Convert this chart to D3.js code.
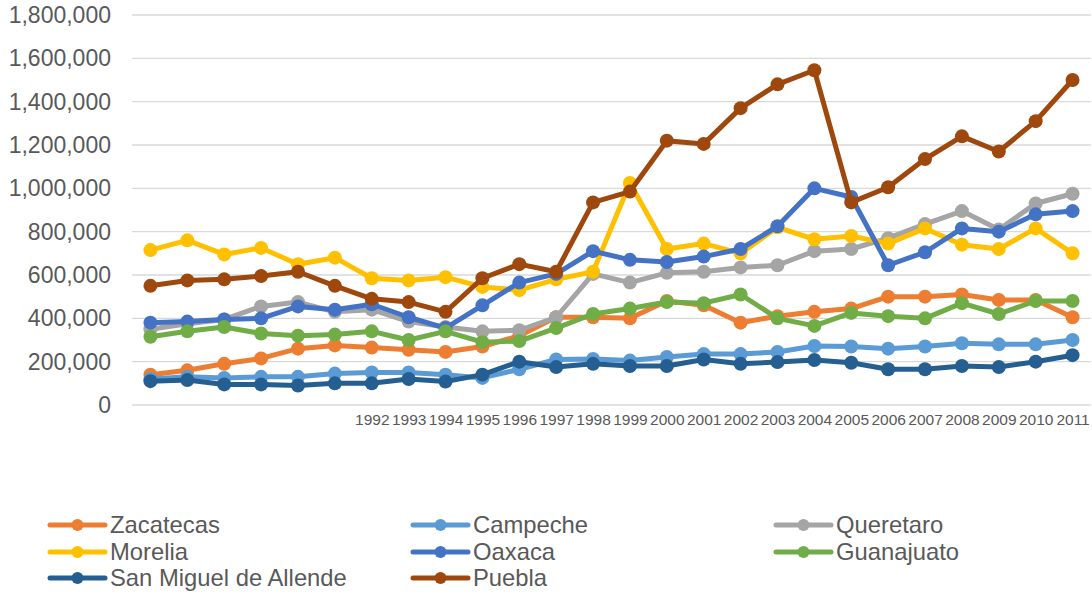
<!DOCTYPE html>
<html>
<head>
<meta charset="utf-8">
<script src="https://cdn.jsdelivr.net/npm/d3@7"></script>
<style>
  body { margin: 0; background: #fff; }
  svg text { font-family: "Liberation Sans", Arial, sans-serif; fill: #595959; }
</style>
</head>
<body>
<div class="canvas"></div>
<script>
// years 1986-1991 have no label on the axis
const years = d3.range(1986, 2012);
const tickLabels = years.map(y => y < 1992 ? "" : String(y));
const yTicks = d3.range(0, 1800001, 200000);

const names = ["Zacatecas", "Campeche", "Queretaro", "Morelia", "Oaxaca", "Guanajuato", "San Miguel de Allende", "Puebla"];
const colors = ["#ED7D31", "#5B9BD5", "#A5A5A5", "#FFC000", "#4472C4", "#70AD47", "#255E91", "#9E480E"];

const zacatecas = [140000, 160000, 190000, 215000, 260000, 275000, 265000, 255000, 245000, 270000, 320000, 405000, 405000, 400000, 480000, 460000, 380000, 410000, 430000, 445000, 500000, 500000, 510000, 485000, 485000, 405000];
const campeche = [120000, 130000, 125000, 130000, 130000, 145000, 150000, 150000, 140000, 125000, 165000, 210000, 212000, 205000, 222000, 235000, 235000, 245000, 272000, 270000, 260000, 270000, 285000, 280000, 280000, 300000];
const queretaro = [350000, 375000, 395000, 455000, 475000, 430000, 440000, 385000, 360000, 340000, 345000, 405000, 605000, 565000, 610000, 615000, 635000, 645000, 710000, 720000, 770000, 835000, 895000, 810000, 930000, 975000];
const morelia = [715000, 760000, 695000, 725000, 650000, 680000, 585000, 575000, 590000, 545000, 530000, 580000, 615000, 1025000, 720000, 745000, 700000, 820000, 765000, 780000, 745000, 815000, 740000, 720000, 815000, 700000];
const oaxaca = [380000, 385000, 395000, 400000, 455000, 440000, 465000, 405000, 355000, 460000, 565000, 605000, 710000, 670000, 660000, 685000, 720000, 825000, 1000000, 960000, 645000, 705000, 815000, 800000, 880000, 895000];
const guanajuato = [315000, 340000, 360000, 330000, 320000, 325000, 340000, 300000, 340000, 290000, 295000, 355000, 420000, 445000, 475000, 470000, 510000, 400000, 365000, 425000, 410000, 400000, 470000, 420000, 480000, 480000];
const sanMiguel = [110000, 115000, 95000, 95000, 90000, 100000, 100000, 120000, 108000, 140000, 200000, 175000, 190000, 180000, 180000, 210000, 190000, 198000, 208000, 195000, 165000, 165000, 180000, 175000, 200000, 230000];
const puebla = [550000, 575000, 580000, 595000, 615000, 550000, 490000, 475000, 430000, 585000, 650000, 615000, 935000, 985000, 1220000, 1205000, 1370000, 1480000, 1545000, 935000, 1005000, 1135000, 1240000, 1170000, 1310000, 1500000];

const seriesValues = [zacatecas, campeche, queretaro, morelia, oaxaca, guanajuato, sanMiguel, puebla];

const dim = { width: 1092, height: 592 };
const plot = { left: 132, right: 1091, top: 15, bottom: 405 };

const svg = d3.select(".canvas").append("svg")
  .attr("width", dim.width).attr("height", dim.height);

const x = d3.scalePoint().domain(years).range([plot.left, plot.right]).padding(0.5);
const y = d3.scaleLinear().domain([0, 1800000]).range([plot.bottom, plot.top]);

// gridlines
svg.append("g").selectAll("line").data(yTicks).join("line")
  .attr("x1", plot.left).attr("x2", plot.right)
  .attr("y1", d => y(d)).attr("y2", d => y(d))
  .attr("stroke", "#d9d9d9").attr("stroke-width", 1.3);

// y axis labels
const yAxis = svg.append("g")
  .attr("transform", `translate(${plot.left - 21},0)`)
  .call(d3.axisLeft(y).tickValues(yTicks).tickFormat(d3.format(",")).tickSize(0).tickPadding(0));
yAxis.select(".domain").remove();
yAxis.selectAll("text").style("font-size", "23px").style("font-family", "Liberation Sans, Arial, sans-serif").attr("fill", "#595959");

// x axis labels
const xAxis = svg.append("g")
  .attr("transform", `translate(0,${plot.bottom + 9})`)
  .call(d3.axisBottom(x).tickFormat((d, i) => tickLabels[i]).tickSize(0).tickPadding(0));
xAxis.select(".domain").remove();
xAxis.selectAll("text").style("font-size", "15.5px").style("font-family", "Liberation Sans, Arial, sans-serif").attr("fill", "#595959");

const line = d3.line().x((d, i) => x(years[i])).y(d => y(d));

seriesValues.forEach((vals, k) => {
  const g = svg.append("g");
  g.append("path").datum(vals)
    .attr("d", line)
    .attr("fill", "none")
    .attr("stroke", colors[k])
    .attr("stroke-width", 5)
    .attr("stroke-linejoin", "round");
  g.selectAll("circle").data(vals).join("circle")
    .attr("cx", (d, i) => x(years[i]))
    .attr("cy", d => y(d))
    .attr("r", 7)
    .attr("fill", colors[k]);
});

// legend
const colX = [50, 413, 776];
const rowY = [525, 552, 578];
const legend = svg.append("g");
names.forEach((n, k) => {
  const cx = colX[k % 3], cy = rowY[Math.floor(k / 3)];
  const item = legend.append("g").attr("transform", `translate(${cx},${cy})`);
  item.append("line").attr("x1", 0).attr("x2", 55).attr("y1", 0).attr("y2", 0)
    .attr("stroke", colors[k]).attr("stroke-width", 5).attr("stroke-linecap", "round");
  item.append("circle").attr("cx", 27.5).attr("cy", 0).attr("r", 6).attr("fill", colors[k]);
  item.append("text").attr("x", 60).attr("y", 0).attr("dy", "0.35em")
    .style("font-size", "23.8px").text(n);
});
</script>
</body>
</html>
